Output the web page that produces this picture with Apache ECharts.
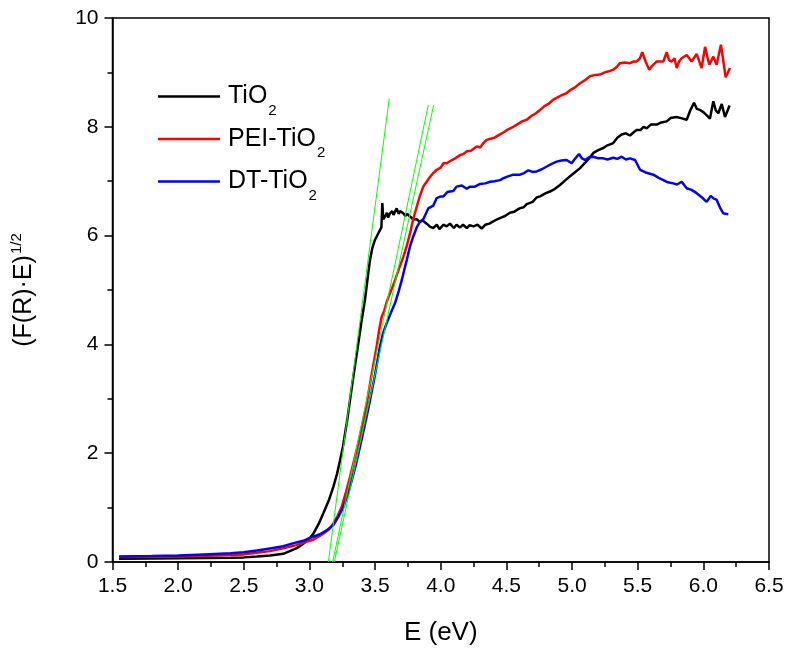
<!DOCTYPE html>
<html>
<head>
<meta charset="utf-8">
<script src="https://cdn.jsdelivr.net/npm/echarts@6/dist/echarts.min.js"></script>
<style>html,body{margin:0;padding:0;background:#fff}#c{width:792px;height:655px}</style>
</head>
<body>
<div id="c"></div>
<script>
const seriesNames = ['TiO2', 'PEI-TiO2', 'DT-TiO2'];
const xTicks = [1.5, 2.0, 2.5, 3.0, 3.5, 4.0, 4.5, 5.0, 5.5, 6.0, 6.5];
const yTicks = [0, 2, 4, 6, 8, 10];

const tio2 = [[1.55,0.06],[1.8,0.065],[2.0,0.07],[2.2,0.075],[2.4,0.08],[2.5,0.085],[2.6,0.1],[2.7,0.12],[2.8,0.15],[2.9,0.25],[2.95,0.33],[3.0,0.43],[3.03,0.52],[3.07,0.7],[3.105,0.89],[3.15,1.15],[3.182,1.38],[3.21,1.62],[3.233,1.87],[3.255,2.12],[3.271,2.36],[3.29,2.65],[3.309,2.98],[3.34,3.5],[3.365,3.9],[3.395,4.4],[3.423,4.82],[3.445,5.25],[3.461,5.55],[3.48,5.78],[3.499,5.92],[3.52,6.02],[3.537,6.1],[3.548,6.15],[3.555,6.6],[3.562,6.3],[3.575,6.35],[3.59,6.42],[3.6,6.33],[3.613,6.41],[3.63,6.45],[3.64,6.38],[3.664,6.5],[3.68,6.4],[3.69,6.45],[3.715,6.41],[3.73,6.36],[3.745,6.4],[3.766,6.35],[3.79,6.3],[3.817,6.3],[3.84,6.25],[3.86,6.28],[3.893,6.22],[3.92,6.16],[3.943,6.14],[3.97,6.2],[3.99,6.12],[4.02,6.2],[4.045,6.17],[4.07,6.22],[4.1,6.14],[4.12,6.2],[4.147,6.15],[4.17,6.2],[4.198,6.14],[4.22,6.19],[4.25,6.17],[4.28,6.2],[4.312,6.13],[4.34,6.2],[4.37,6.22],[4.4,6.26],[4.43,6.3],[4.46,6.33],[4.49,6.36],[4.527,6.42],[4.56,6.44],[4.6,6.5],[4.63,6.52],[4.655,6.58],[4.7,6.62],[4.73,6.7],[4.756,6.72],[4.8,6.78],[4.832,6.81],[4.87,6.86],[4.908,6.93],[4.95,7.02],[4.985,7.09],[5.02,7.16],[5.061,7.24],[5.1,7.34],[5.13,7.42],[5.162,7.52],[5.2,7.57],[5.238,7.61],[5.27,7.66],[5.314,7.7],[5.345,7.8],[5.378,7.86],[5.41,7.88],[5.441,7.84],[5.47,7.9],[5.492,7.94],[5.52,7.94],[5.545,8.0],[5.568,7.97],[5.6,8.04],[5.645,8.04],[5.68,8.08],[5.721,8.1],[5.75,8.16],[5.797,8.18],[5.83,8.16],[5.873,8.13],[5.9,8.3],[5.929,8.44],[5.95,8.33],[5.974,8.31],[6.0,8.27],[6.03,8.2],[6.05,8.15],[6.076,8.47],[6.095,8.3],[6.114,8.25],[6.14,8.42],[6.165,8.18],[6.2,8.39]];

const peiTio2 = [[1.55,0.09],[1.8,0.095],[2.0,0.1],[2.2,0.11],[2.4,0.13],[2.5,0.14],[2.6,0.17],[2.7,0.2],[2.8,0.25],[2.9,0.31],[3.0,0.39],[3.029,0.41],[3.1,0.51],[3.15,0.6],[3.182,0.71],[3.215,0.85],[3.245,1.01],[3.28,1.3],[3.309,1.56],[3.34,1.87],[3.372,2.18],[3.405,2.55],[3.436,2.91],[3.47,3.4],[3.512,3.96],[3.53,4.25],[3.55,4.51],[3.57,4.62],[3.588,4.78],[3.62,4.98],[3.652,5.18],[3.68,5.38],[3.715,5.61],[3.74,5.8],[3.766,6.04],[3.79,6.3],[3.817,6.53],[3.84,6.72],[3.867,6.9],[3.89,6.98],[3.918,7.08],[3.943,7.15],[3.969,7.21],[4.0,7.25],[4.02,7.33],[4.045,7.33],[4.08,7.38],[4.11,7.42],[4.147,7.48],[4.172,7.5],[4.2,7.55],[4.23,7.56],[4.274,7.64],[4.3,7.62],[4.325,7.7],[4.35,7.76],[4.38,7.78],[4.41,7.8],[4.451,7.86],[4.48,7.9],[4.51,7.95],[4.553,8.0],[4.58,8.04],[4.62,8.1],[4.655,8.13],[4.69,8.2],[4.72,8.24],[4.756,8.31],[4.79,8.38],[4.82,8.42],[4.857,8.5],[4.89,8.54],[4.92,8.58],[4.959,8.62],[4.99,8.68],[5.02,8.72],[5.061,8.8],[5.1,8.86],[5.137,8.93],[5.17,8.95],[5.213,8.96],[5.25,9.0],[5.28,9.02],[5.314,9.05],[5.34,9.1],[5.365,9.17],[5.4,9.18],[5.441,9.17],[5.47,9.2],[5.492,9.2],[5.515,9.25],[5.535,9.37],[5.56,9.2],[5.588,9.05],[5.61,9.12],[5.645,9.2],[5.695,9.2],[5.721,9.37],[5.74,9.22],[5.759,9.2],[5.78,9.26],[5.797,9.08],[5.815,9.2],[5.835,9.26],[5.873,9.32],[5.911,9.2],[5.949,9.34],[5.987,9.08],[6.013,9.47],[6.045,9.14],[6.076,9.29],[6.101,9.14],[6.134,9.51],[6.17,8.91],[6.203,9.08]];

const dtTio2 = [[1.55,0.1],[1.8,0.11],[2.0,0.12],[2.2,0.14],[2.4,0.16],[2.5,0.18],[2.6,0.21],[2.7,0.25],[2.8,0.29],[2.9,0.36],[2.953,0.39],[3.0,0.44],[3.08,0.51],[3.13,0.58],[3.182,0.68],[3.22,0.83],[3.258,1.01],[3.29,1.23],[3.322,1.5],[3.355,1.8],[3.385,2.12],[3.42,2.5],[3.456,2.91],[3.5,3.45],[3.537,3.96],[3.56,4.2],[3.588,4.39],[3.62,4.58],[3.652,4.76],[3.68,4.98],[3.703,5.18],[3.72,5.35],[3.741,5.55],[3.766,5.8],[3.79,5.98],[3.817,6.15],[3.84,6.25],[3.867,6.3],[3.905,6.5],[3.943,6.55],[3.969,6.69],[4.0,6.72],[4.02,6.72],[4.05,6.8],[4.07,6.81],[4.096,6.82],[4.12,6.9],[4.134,6.88],[4.16,6.92],[4.198,6.86],[4.223,6.9],[4.26,6.9],[4.3,6.95],[4.34,6.96],[4.376,6.99],[4.41,7.0],[4.451,7.02],[4.475,7.05],[4.502,7.08],[4.553,7.12],[4.604,7.12],[4.635,7.15],[4.667,7.2],[4.7,7.17],[4.731,7.18],[4.77,7.22],[4.807,7.27],[4.845,7.32],[4.883,7.36],[4.92,7.38],[4.959,7.39],[4.997,7.33],[5.025,7.42],[5.053,7.5],[5.075,7.42],[5.099,7.39],[5.13,7.44],[5.162,7.45],[5.2,7.42],[5.238,7.42],[5.27,7.4],[5.314,7.43],[5.345,7.41],[5.378,7.45],[5.41,7.4],[5.441,7.42],[5.48,7.39],[5.518,7.21],[5.56,7.16],[5.619,7.12],[5.66,7.06],[5.695,7.02],[5.73,6.98],[5.771,6.96],[5.8,6.94],[5.835,6.99],[5.873,6.87],[5.91,6.84],[5.949,6.78],[5.99,6.7],[6.025,6.62],[6.056,6.73],[6.08,6.68],[6.101,6.66],[6.13,6.5],[6.152,6.41],[6.19,6.39]];

const fitLine1 = [[3.144,0],[3.608,8.52]];
const fitLine2 = [[3.177,0],[3.905,8.4]];
const fitLine3 = [[3.189,0],[3.946,8.4]];

const FONT = '"Liberation Sans", Arial, sans-serif';
const chart = echarts.init(document.getElementById('c'), null, {renderer: 'canvas'});
const colors = ['#000000', '#ff0000', '#0000ff'];
const dataSets = [tio2, peiTio2, dtTio2];

const lineSeries = seriesNames.map((n, i) => ({
  name: n, type: 'line', data: dataSets[i], showSymbol: false, symbol: 'none',
  lineStyle: {color: colors[i], width: 2.5}, itemStyle: {color: colors[i]},
  animation: false, z: 3
}));
const fits = [fitLine1, fitLine2, fitLine3].map(d => ({
  type: 'line', data: d, symbol: 'none', lineStyle: {color: '#00ff00', width: 1}, animation: false, z: 4, silent: true
}));

chart.setOption({
  animation: false,
  textStyle: {fontFamily: FONT},
  grid: {left: 112.5, right: 23, top: 18, bottom: 93, show: true, borderColor: '#000', borderWidth: 1.5, backgroundColor: 'transparent'},
  legend: {
    orient: 'vertical', left: 158, top: 75, padding: 0,
    icon: 'rect', itemWidth: 62, itemHeight: 2.5, itemGap: -0.5,
    data: seriesNames,
    formatter: n => '{a|' + n.slice(0, -1) + '}{s|2}',
    textStyle: {color: '#000', fontFamily: FONT, fontSize: 25,
      rich: {a: {fontSize: 25, lineHeight: 26, fontFamily: FONT, color: '#000', padding: [0, 0, 0, 3]},
             s: {fontSize: 15, lineHeight: 15, fontFamily: FONT, color: '#000', padding: [28, 0, 0, 1]}}}
  },
  xAxis: {
    type: 'value', min: 1.5, max: 6.5, interval: 0.5,
    name: 'E (eV)', nameLocation: 'middle', nameGap: 58,
    nameTextStyle: {fontSize: 26, color: '#000', fontFamily: FONT},
    axisLine: {lineStyle: {color: '#000', width: 1.5}},
    axisTick: {length: 8, lineStyle: {color: '#000', width: 1.5}},
    minorTick: {show: true, splitNumber: 2, length: 5, lineStyle: {color: '#000', width: 1.5}},
    splitLine: {show: false},
    axisLabel: {fontSize: 21, color: '#000', margin: 14, fontFamily: FONT, formatter: v => v.toFixed(1)}
  },
  yAxis: {
    type: 'value', min: 0, max: 10, interval: 2,
    name: '{a|(F(R)·E)}{s|1/2}', nameLocation: 'middle', nameGap: 74, nameRotate: 90,
    nameTextStyle: {fontSize: 25, color: '#000', fontFamily: FONT,
      rich: {a: {fontSize: 25, fontFamily: FONT, color: '#000'}, s: {fontSize: 15, fontFamily: FONT, color: '#000', padding: [0, 0, 14, 1]}}},
    axisLine: {lineStyle: {color: '#000', width: 1.5}},
    axisTick: {length: 8, lineStyle: {color: '#000', width: 1.5}},
    minorTick: {show: true, splitNumber: 2, length: 5, lineStyle: {color: '#000', width: 1.5}},
    splitLine: {show: false},
    axisLabel: {fontSize: 21, color: '#000', margin: 14, fontFamily: FONT}
  },
  series: lineSeries.concat(fits)
});
</script>
</body>
</html>
